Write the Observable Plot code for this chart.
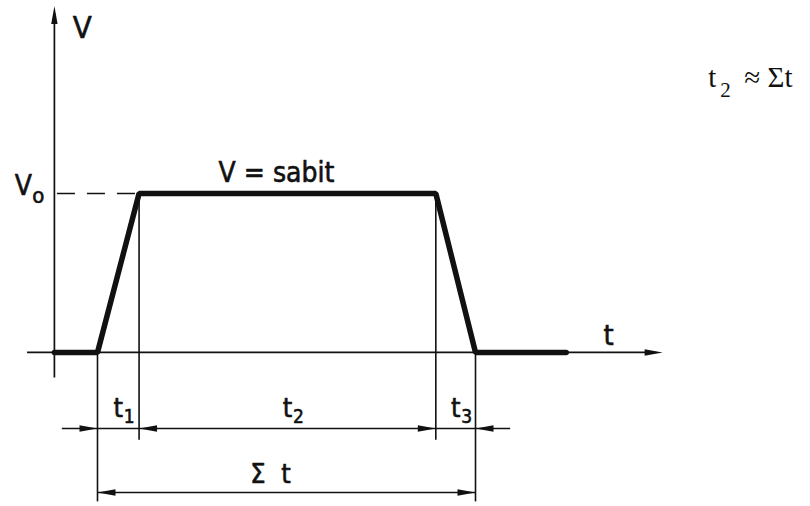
<!DOCTYPE html>
<html>
<head>
<meta charset="utf-8">
<script src="https://cdn.jsdelivr.net/npm/d3@7"></script>
<script src="https://cdn.jsdelivr.net/npm/@observablehq/plot@0.6"></script>
<style>
  html, body { margin: 0; padding: 0; background: #fff; }
  #chart svg { display: block; }
</style>
</head>
<body>
<div id="chart"></div>
<script>
// ---- data (time in arbitrary units, velocity relative to V0) ----
const phaseSubs = ["1", "2", "3"];
const phaseStart = [0, 1.1, 8.95];
const phaseEnd = [1.1, 8.95, 10];
const profileT = [-1.14, 0, 1.1, 8.95, 10, 12.4];
const profileV = [0, 0, 1, 1, 0, 0];
const V0 = 1;
const totalStart = 0, totalEnd = 10;

// ---- derived tables ----
const profile = profileT.map((t, i) => ({t, v: profileV[i]}));
const phases = phaseSubs.map((s, i) => ({sub: s, a: phaseStart[i], b: phaseEnd[i], mid: (phaseStart[i] + phaseEnd[i]) / 2}));

// layout constants (in data units)
const axisT = -1.14, axisTop = 2.18, axisBottom = -0.16;
const baseStart = -1.85, baseEnd = 14.95;
const dimY = -0.478, sumY = -0.881;
const dimStart = -0.93, dimEnd = 10.93;
const tickShort = -0.553, tickLong = -0.94;
const labelY = -0.409;

const ink = "#111";
const sans = "'DejaVu Sans Condensed', 'DejaVu Sans', sans-serif";
const serif = "'Liberation Serif', 'Times New Roman', serif";
const heavy = {stroke: ink, strokeWidth: 0.6, fill: ink, lineAnchor: "bottom"};

const arrows = [
  {x: axisT, y: axisTop, r: 0},
  {x: baseEnd, y: 0, r: 90},
  {x: totalStart, y: dimY, r: 90},
  {x: phaseEnd[0], y: dimY, r: -90},
  {x: phaseEnd[1], y: dimY, r: 90},
  {x: totalEnd, y: dimY, r: -90},
  {x: totalStart, y: sumY, r: -90},
  {x: totalEnd, y: sumY, r: 90}
];

const spike = {draw(ctx, l) { ctx.moveTo(-3.2, 0); ctx.lineTo(0, -l); ctx.lineTo(3.2, 0); ctx.closePath(); }};

const chart = Plot.plot({
  width: 810,
  height: 506,
  margin: 0,
  style: {background: "#fff"},
  x: {domain: [-2.566, 18.862], axis: null},
  y: {domain: [-0.969, 2.214], axis: null},
  marks: [
    // axes
    Plot.ruleX([axisT], {y1: axisBottom, y2: axisTop - 0.05, stroke: ink, strokeWidth: 1.7}),
    Plot.ruleY([0], {x1: baseStart, x2: baseEnd - 0.3, stroke: ink, strokeWidth: 1.7}),
    // dashed V0 guide
    Plot.ruleY([V0], {x1: axisT + 0.08, x2: phaseEnd[0], stroke: ink, strokeWidth: 1.7, strokeDasharray: "18,12"}),
    // extension lines
    Plot.ruleX([totalStart, totalEnd], {y1: 0, y2: tickLong, stroke: ink, strokeWidth: 1.6}),
    Plot.ruleX([phaseEnd[0], phaseEnd[1]], {y1: V0, y2: tickShort, stroke: ink, strokeWidth: 1.6}),
    // dimension lines
    Plot.ruleY([dimY], {x1: dimStart, x2: dimEnd, stroke: ink, strokeWidth: 1.6}),
    Plot.ruleY([sumY], {x1: totalStart, x2: totalEnd, stroke: ink, strokeWidth: 1.6}),
    // arrowheads
    Plot.vector(arrows, {x: "x", y: "y", rotate: "r", length: 18, shape: spike, anchor: "end", fill: ink, stroke: "none"}),
    // velocity profile
    Plot.line(profile, {x: "t", y: "v", stroke: ink, strokeWidth: 5.5, strokeLinejoin: "miter"}),
    // labels
    Plot.text(["V"], {x: axisT, y: axisTop, dx: 28, dy: 32, text: d => d, fontSize: 31, fontFamily: sans, ...heavy}),
    Plot.text(["V"], {x: axisT, y: V0, dx: -31, dy: 2, text: d => d, fontSize: 28, fontFamily: sans, ...heavy}),
    Plot.text(["o"], {x: axisT, y: V0, dx: -16, dy: 10, text: d => d, fontSize: 22, fontFamily: sans, ...heavy}),
    Plot.text(["V = sabit"], {x: phases[1].mid, y: V0, dx: -11, dy: -11, text: d => d, fontSize: 28, fontFamily: sans, ...heavy}),
    Plot.text(["t"], {x: 13.52, y: 0, dy: -7, text: d => d, fontSize: 29, fontFamily: sans, ...heavy}),
    Plot.text(phases, {x: "mid", y: labelY, text: () => "t", fontSize: 27, fontFamily: sans, ...heavy}),
    Plot.text(phases, {x: "mid", y: labelY, dx: 11, dy: 6, text: "sub", fontSize: 19, fontFamily: sans, ...heavy}),
    Plot.text(["Σ  t"], {x: (totalStart + totalEnd) / 2, y: sumY, dx: -16, dy: -10, text: d => d, fontSize: 27, fontFamily: sans, ...heavy}),
    // formula
    Plot.text(["t"], {x: 16.16, y: 1.667, text: d => d, textAnchor: "start", fontSize: 29, fontFamily: serif, fill: ink, lineAnchor: "bottom"}),
    Plot.text(["2"], {x: 16.16, y: 1.667, dx: 12, dy: 10, text: d => d, textAnchor: "start", fontSize: 21, fontFamily: serif, fill: ink, lineAnchor: "bottom"}),
    Plot.text(["≈ Σt"], {x: 16.16, y: 1.667, dx: 36, text: d => d, textAnchor: "start", fontSize: 29, fontFamily: serif, fill: ink, lineAnchor: "bottom"})
  ]
});
document.getElementById("chart").appendChild(chart);
</script>
</body>
</html>
